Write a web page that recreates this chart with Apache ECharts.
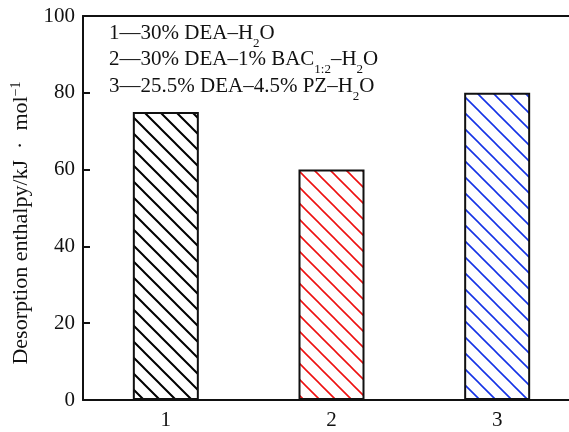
<!DOCTYPE html>
<html>
<head>
<meta charset="utf-8">
<script src="https://cdn.jsdelivr.net/npm/echarts@6/dist/echarts.min.js"></script>
<style>
  html, body { margin: 0; padding: 0; background: #fff; overflow: hidden; }
  #chart { width: 590px; height: 432px; }
</style>
</head>
<body>
<div id="chart"></div>
<script>
// Desorption enthalpy of the three absorbent systems
const categories = ['1', '2', '3'];
const enthalpy = [75, 60, 80];
const hatchColors = ['#000000', '#ee1111', '#1533e6'];
const yTicks = { min: 0, max: 100, interval: 20 };

const SERIF = '"Liberation Serif", "DejaVu Serif", serif';

// Diagonal hatch tile (lines running top-left to bottom-right)
function hatch(color, width) {
  const s = 16;
  const c = document.createElement('canvas');
  c.width = s; c.height = s;
  const g = c.getContext('2d');
  g.fillStyle = '#fff';
  g.fillRect(0, 0, s, s);
  g.strokeStyle = color;
  g.lineWidth = width;
  g.beginPath();
  g.moveTo(-s, -s); g.lineTo(2 * s, 2 * s);
  g.moveTo(-s, 0); g.lineTo(s, 2 * s);
  g.moveTo(0, -s); g.lineTo(2 * s, s);
  g.stroke();
  return { image: c, repeat: 'repeat' };
}

const chart = echarts.init(document.getElementById('chart'), null, { renderer: 'canvas' });

const base = { fontFamily: SERIF, fontSize: 21, fill: '#111', lineHeight: 24 };
const sub = { fontFamily: SERIF, fontSize: 13, fill: '#111', lineHeight: 24, verticalAlign: 'bottom', padding: [0, 0, -5, 0] };

chart.setOption({
  animation: false,
  backgroundColor: '#fff',
  grid: { left: 83, top: 16, width: 497, height: 384 },
  xAxis: [{
    type: 'category',
    data: categories,
    axisLine: { lineStyle: { color: '#111', width: 2 } },
    axisTick: { show: false },
    axisLabel: { color: '#111', fontFamily: SERIF, fontSize: 21, margin: 10 }
  }, {
    type: 'category',
    position: 'top',
    data: categories,
    axisLine: { lineStyle: { color: '#111', width: 2 } },
    axisTick: { show: false },
    axisLabel: { show: false }
  }],
  yAxis: {
    type: 'value',
    min: yTicks.min, max: yTicks.max, interval: yTicks.interval,
    axisLine: { show: true, lineStyle: { color: '#111', width: 2 } },
    axisTick: { show: true, inside: true, length: 7, lineStyle: { color: '#111', width: 2 } },
    splitLine: { show: false },
    axisLabel: { color: '#111', fontFamily: SERIF, fontSize: 21, margin: 8 },
    name: '{a|Desorption enthalpy/kJ  ·  mol}{s|−1}{g|}',
    nameLocation: 'middle',
    nameGap: 49,
    nameTextStyle: {
      rich: {
        a: { fontFamily: SERIF, fontSize: 22, color: '#111' },
        s: { fontFamily: SERIF, fontSize: 14, color: '#111', verticalAlign: 'top', padding: [0, 0, 10, 0] },
        g: { width: 30 }
      }
    }
  },
  series: [{
    type: 'bar',
    barWidth: 66,
    data: enthalpy.map((v, i) => ({
      value: v,
      itemStyle: { color: hatch(hatchColors[i], i === 0 ? 2 : 1.6), borderColor: '#111', borderWidth: 2 }
    }))
  }],
  graphic: [{
    type: 'text', left: 109, top: 23,
    style: {
      text: '{t|1—30% DEA–H}{s|2}{t|O}',
      rich: { t: base, s: sub }
    }
  }, {
    type: 'text', left: 109, top: 49,
    style: {
      text: '{t|2—30% DEA–1% BAC}{s|1:2}{t|–H}{s|2}{t|O}',
      rich: { t: base, s: sub }
    }
  }, {
    type: 'text', left: 109, top: 76,
    style: {
      text: '{t|3—25.5% DEA–4.5% PZ–H}{s|2}{t|O}',
      rich: { t: base, s: sub }
    }
  }]
});
</script>
</body>
</html>
